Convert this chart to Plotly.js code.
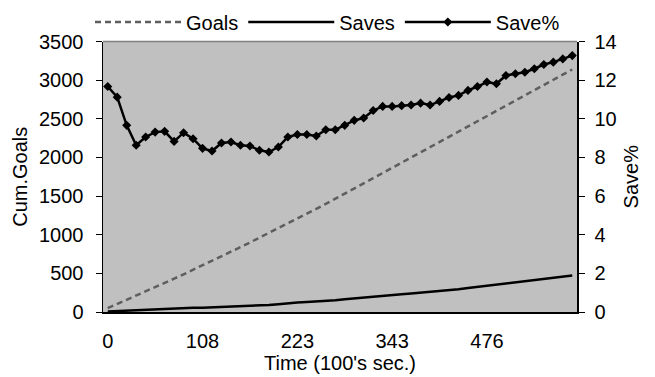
<!DOCTYPE html>
<html>
<head>
<meta charset="utf-8">
<script src="https://cdn.plot.ly/plotly-3.0.1.min.js"></script>
<style>html,body{margin:0;padding:0;background:#fff;}#chart{width:655px;height:377px;}</style>
</head>
<body>
<div id="chart"></div>
<script>
// Time categories (100's sec.)
const times = [0,11,22,32,43,54,65,76,86,97,108,119,131,142,154,165,177,188,200,211,223,235,247,259,271,283,295,307,319,331,343,356,369,383,396,409,423,436,449,463,476,489,503,516,530,543,557,570,584,597];
// Cumulative goals
const goals = [50,103,156,210,264,319,375,431,488,545,603,661,720,779,839,899,960,1021,1083,1145,1208,1271,1335,1399,1463,1530,1597,1664,1731,1798,1865,1932,1999,2066,2133,2200,2267,2334,2401,2468,2535,2602,2669,2736,2803,2870,2937,3004,3071,3138];
// Cumulative saves
const saves = [7,13,17,20,26,33,39,42,50,54,56,60,69,75,79,84,88,92,101,114,122,129,134,146,152,164,176,186,202,214,222,231,240,250,256,269,283,295,311,326,342,348,372,385,397,413,432,446,460,472];
// Save percentage
const savePct = [11.67,11.12,9.66,8.63,9.06,9.31,9.35,8.83,9.28,8.97,8.47,8.33,8.75,8.80,8.63,8.59,8.37,8.28,8.54,9.06,9.19,9.19,9.11,9.43,9.43,9.66,9.92,10.04,10.43,10.64,10.64,10.68,10.71,10.81,10.71,10.90,11.10,11.21,11.47,11.67,11.90,11.81,12.24,12.33,12.41,12.59,12.81,12.93,13.10,13.27];
// Labelled x ticks
const xTickLabels = [0,108,223,343,476];

const cats = times.map(String);
const n = cats.length;
const boundaryTicks = [];
for (let k = 0; k <= n; k += 5) boundaryTicks.push(k - 0.5);

const F = 'Liberation Sans, Arial, sans-serif';
const FS = 20;

const traces = [
  {x: cats, y: goals, name: 'Goals', type: 'scatter', mode: 'lines',
   line: {color: '#5e5e5e', width: 2.5, dash: '6px,4px'}, xaxis: 'x', yaxis: 'y'},
  {x: cats, y: saves, name: 'Saves', type: 'scatter', mode: 'lines',
   line: {color: '#000', width: 2.5}, xaxis: 'x', yaxis: 'y'},
  {x: cats, y: savePct, name: 'Save%', type: 'scatter', mode: 'lines+markers',
   line: {color: '#000', width: 2.5}, marker: {symbol: 'diamond', size: 7, color: '#000'},
   xaxis: 'x', yaxis: 'y2'}
];

const layout = {
  width: 655, height: 377,
  margin: {l: 103, r: 78, t: 41, b: 65},
  paper_bgcolor: '#fff', plot_bgcolor: '#c0c0c0',
  font: {family: F, size: FS, color: '#000'},
  showlegend: true,
  legend: {orientation: 'h', x: 0.5, xanchor: 'center', xref: 'container', yref: 'container',
           y: 1 - 22 / 377, yanchor: 'middle',
           font: {family: F, size: FS, color: '#000'}, itemwidth: 86, bgcolor: 'rgba(0,0,0,0)',
           tracegroupgap: 0},
  xaxis: {type: 'category', categoryorder: 'array', categoryarray: cats,
          range: [-0.5, n - 0.5], tickmode: 'array', tickvals: xTickLabels.map(String),
          ticktext: xTickLabels.map(String), ticks: '', showline: true, linecolor: '#000', linewidth: 1.5,
          showgrid: false, zeroline: false, tickfont: {family: F, size: FS}, ticklabelstandoff: 10,
          title: {text: "Time (100's sec.)", font: {family: F, size: FS}, standoff: 0}},
  xaxis2: {overlaying: 'x', anchor: 'y', type: 'linear', range: [-0.5, n - 0.5], tickmode: 'array',
           tickvals: boundaryTicks, showticklabels: false, ticks: 'outside', ticklen: 6, tickwidth: 1,
           tickcolor: '#000', showline: false, showgrid: false, zeroline: false},
  xaxis3: {overlaying: 'x', anchor: 'y', type: 'linear', range: [-0.5, n - 0.5], tickmode: 'array',
           tickvals: boundaryTicks, showticklabels: false, ticks: 'inside', ticklen: 4, tickwidth: 1,
           tickcolor: '#000', showline: false, showgrid: false, zeroline: false},
  yaxis: {range: [0, 3500], dtick: 500, tick0: 0, ticks: 'outside', ticklen: 6, tickcolor: '#000',
          showline: true, linecolor: '#000', linewidth: 1.5, showgrid: false, zeroline: false,
          tickfont: {family: F, size: FS}, ticklabelstandoff: 8,
          title: {text: 'Cum.Goals', font: {family: F, size: FS}, standoff: 6}},
  yaxis2: {range: [0, 14], dtick: 2, tick0: 0, overlaying: 'y', side: 'right', anchor: 'x',
           ticks: 'outside', ticklen: 6, tickcolor: '#000', showline: true, linecolor: '#000', linewidth: 1.5,
           showgrid: false, zeroline: false, tickfont: {family: F, size: FS}, ticklabelstandoff: 6,
           title: {text: 'Save%', font: {family: F, size: FS}, standoff: 8}},
  shapes: [
    {type: 'line', xref: 'paper', yref: 'paper', x0: 0, x1: 1, y0: 1, y1: 1,
     line: {color: '#808080', width: 1.5}}
  ]
};

Plotly.newPlot('chart', traces, layout, {displayModeBar: false, staticPlot: true});
</script>
</body>
</html>
